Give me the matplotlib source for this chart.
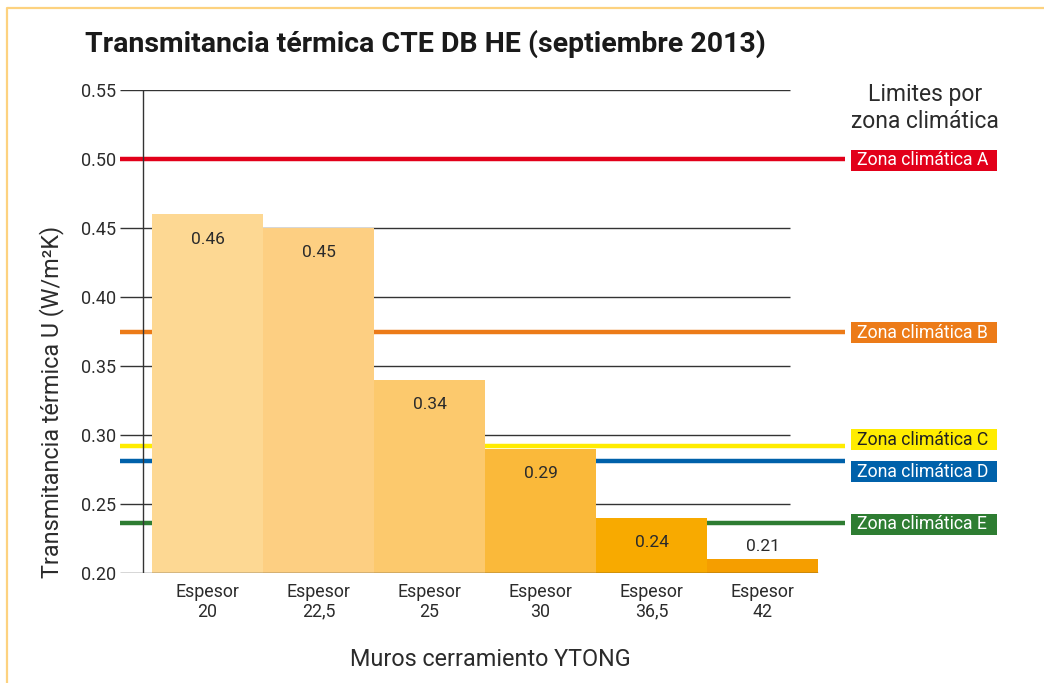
import matplotlib
matplotlib.use("Agg")
import matplotlib.pyplot as plt
from matplotlib.patches import Rectangle
from matplotlib.lines import Line2D

# ---- data ----
categories = ["Espesor\n20", "Espesor\n22,5", "Espesor\n25", "Espesor\n30", "Espesor\n36,5", "Espesor\n42"]
u_values = [0.46, 0.45, 0.34, 0.29, 0.24, 0.21]
value_labels = ["0.46", "0.45", "0.34", "0.29", "0.24", "0.21"]
bar_colors = ["#FDD893", "#FDCF82", "#FCC96D", "#FAB93A", "#F8AA00", "#F59E00"]

zone_names = ["Zona climática A", "Zona climática B", "Zona climática C", "Zona climática D", "Zona climática E"]
zone_limits = [0.50, 0.375, 0.292, 0.281, 0.236]
zone_colors = ["#E2001A", "#EC7B18", "#FFEC00", "#0061AA", "#2E7D32"]
zone_text_colors = ["white", "white", "#222222", "white", "white"]
# vertical placement of the zone tags (C and D are pushed apart so they don't collide)
zone_tag_y = [0.499, 0.374, 0.2965, 0.2735, 0.2355]

yticks = [0.20, 0.25, 0.30, 0.35, 0.40, 0.45, 0.50, 0.55]
ytick_labels = ["0.20", "0.25", "0.30", "0.35", "0.40", "0.45", "0.50", "0.55"]

plt.rcParams["font.family"] = ["Roboto", "DejaVu Sans"]
TXT = "#2b2b2b"

W, H = 1044, 683
fig = plt.figure(figsize=(W / 100, H / 100), dpi=100)


def fx(px):
    return px / W


def fy(py):
    return 1 - py / H


# axes: left 120px, right 850px, top 90px, bottom 573px
ax = fig.add_axes([fx(120), fy(573), (850 - 120) / W, (573 - 90) / H])
unit = 111.0  # px per bar
x0 = -32 / unit
x1 = 698 / unit
ax.set_xlim(x0, x1)
ax.set_ylim(0.20, 0.55)
for s in ax.spines.values():
    s.set_visible(False)

# horizontal grid
grid_end = (790 - 152) / unit
for y in yticks[1:]:
    ax.hlines(y, x0, grid_end, color="#333333", lw=1.0, zorder=1)
ax.hlines(0.20, x0, len(u_values), color="#333333", lw=1.0, zorder=4)
# vertical axis line
ax.vlines(-9 / unit, 0.20, 0.55, color="#333333", lw=1.0, zorder=4)

# zone limit lines
zone_end = (845 - 152) / unit
for lim, col in zip(zone_limits, zone_colors):
    ax.hlines(lim, x0, zone_end, color=col, lw=3.2, zorder=2)

# bars
centers = [i + 0.5 for i in range(len(u_values))]
ax.bar(centers, [v - 0.20 for v in u_values], bottom=0.20, width=1.0,
       color=bar_colors, linewidth=0, zorder=3)

# value labels
for c, v, lab in zip(centers, u_values, value_labels):
    if v - 0.20 > 0.03:
        ty = v - 0.018
    else:
        ty = v + 0.009
    ax.text(c, ty, lab, ha="center", va="center", fontsize=12.5, color=TXT, zorder=5)

# ticks
ax.set_yticks(yticks)
ax.set_yticklabels(ytick_labels, fontsize=13, color=TXT)
ax.set_xticks(centers)
ax.set_xticklabels(categories, fontsize=12.8, color=TXT, linespacing=1.15)
ax.tick_params(axis="both", length=0)
ax.tick_params(axis="y", pad=3)
ax.tick_params(axis="x", pad=7)

# zone label boxes
for name, ty, col, tcol in zip(zone_names, zone_tag_y, zone_colors, zone_text_colors):
    _, ypx = ax.transData.transform((0, ty))
    yc = ypx / H
    fig.patches.append(Rectangle((fx(851), yc - 10.5 / H), 146 / W, 21 / H,
                                 transform=fig.transFigure, facecolor=col,
                                 edgecolor="none", zorder=5))
    fig.text(fx(857), yc, name, ha="left", va="center", fontsize=12.7,
             color=tcol, zorder=6)

# texts
fig.text(fx(85), fy(44), "Transmitancia térmica CTE DB HE (septiembre 2013)",
         ha="left", va="center", fontsize=20.5, fontweight="bold", color="#1a1a1a")
fig.text(fx(52), fy(402), "Transmitancia térmica U (W/m²K)", rotation=90,
         ha="center", va="center", fontsize=16.8, color=TXT)
fig.text(fx(490), fy(660), "Muros cerramiento YTONG", ha="center", va="center",
         fontsize=16.8, color=TXT)
fig.text(fx(925), fy(108), "Limites por\nzona climática", ha="center", va="center",
         fontsize=16.5, color=TXT, linespacing=1.2)

# frame on top and left
fig.add_artist(Line2D([fx(6.5), fx(6.5), fx(W)], [0, fy(7.5), fy(7.5)],
                      transform=fig.transFigure, color="#FDD27F", lw=1.6))

fig.savefig("out.png", dpi=100)
